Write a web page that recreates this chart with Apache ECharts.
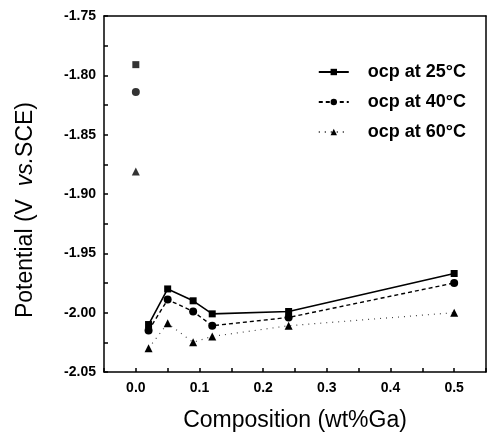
<!DOCTYPE html>
<html><head><meta charset="utf-8">
<script src="https://cdn.jsdelivr.net/npm/echarts@6/dist/echarts.min.js"></script>
<style>html,body{margin:0;padding:0;background:#fff}#c{width:489px;height:437px}</style>
</head><body><div id="c"></div>
<script>
var composition = [0, 0.02, 0.05, 0.09, 0.12, 0.24, 0.5];
var ocp25 = [-1.791, -2.010, -1.980, -1.990, -2.001, -1.999, -1.967];
var ocp40 = [-1.814, -2.015, -1.989, -1.999, -2.011, -2.004, -1.975];
var ocp60 = [-1.881, -2.030, -2.009, -2.025, -2.020, -2.011, -2.000];
var seriesNames = ['ocp at 25\u00b0C', 'ocp at 40\u00b0C', 'ocp at 60\u00b0C'];

function pts(vals, from, to) {
  var out = [];
  for (var i = from; i < to; i++) out.push([composition[i], vals[i]]);
  return out;
}
var styles = [
  {vals: ocp25, sym: 'rect', size: 7, line: {type: 'solid', width: 1.6, color: '#000'}},
  {vals: ocp40, sym: 'circle', size: 8, line: {type: [4, 3], width: 1.4, color: '#000'}},
  {vals: ocp60, sym: 'triangle', size: 8, line: {type: [1, 5], width: 1.2, color: '#444'}}
];
var series = [];
styles.forEach(function (s, k) {
  series.push({
    name: seriesNames[k], type: 'line', data: pts(s.vals, 1, composition.length),
    symbol: s.sym, symbolSize: s.size, lineStyle: s.line,
    itemStyle: {color: '#000'}, z: 3 - k
  });
  series.push({
    type: 'scatter', data: pts(s.vals, 0, 1), symbol: s.sym, symbolSize: s.size,
    itemStyle: {color: '#000'}
  });
});

var font = 'Liberation Sans';
var chart = echarts.init(document.getElementById('c'));
chart.setOption({
  animation: false,
  backgroundColor: '#fff',
  grid: {left: 104, right: 3, top: 16, bottom: 64},
  legend: {
    data: seriesNames, orient: 'vertical', right: 18, top: 58, itemGap: 12,
    itemWidth: 30, itemHeight: 8,
    textStyle: {fontFamily: font, fontWeight: 'bold', fontSize: 18, color: '#000', padding: [0, 0, 0, 14]}
  },
  xAxis: [{
    type: 'value', min: -0.05, max: 0.55, interval: 0.05,
    name: 'Composition (wt%Ga)', nameLocation: 'middle', nameGap: 37,
    nameTextStyle: {fontFamily: font, fontSize: 23, color: '#000'},
    axisLine: {onZero: false, lineStyle: {color: '#000', width: 1.5}},
    axisTick: {inside: true, length: 4, lineStyle: {color: '#000', width: 1.5}},
    splitLine: {show: false},
    axisLabel: {
      fontFamily: font, fontWeight: 'bold', fontSize: 14, color: '#000', margin: 9,
      formatter: function (v) {
        var r = Math.round(v * 100);
        if (r < 0 || r % 10 !== 0) return '';
        return (r / 100).toFixed(1);
      }
    }
  }, {
    type: 'value', position: 'top', min: -0.05, max: 0.55,
    axisLine: {onZero: false, lineStyle: {color: '#000', width: 1.5}},
    axisTick: {show: false}, axisLabel: {show: false}, splitLine: {show: false}
  }],
  yAxis: [{
    type: 'value', min: -2.05, max: -1.75, interval: 0.025,
    name: '{n|Potential (V  }{i|vs.}{n|SCE)}', nameLocation: 'middle', nameGap: 67, nameRotate: 90,
    nameTextStyle: {
      padding: [0, 32, 0, 0],
      rich: {
        n: {fontFamily: font, fontSize: 23, color: '#000'},
        i: {fontFamily: font, fontSize: 23, fontStyle: 'italic', color: '#000'}
      }
    },
    axisLine: {onZero: false, lineStyle: {color: '#000', width: 1.5}},
    axisTick: {inside: true, length: 4, lineStyle: {color: '#000', width: 1.5}},
    splitLine: {show: false},
    axisLabel: {
      fontFamily: font, fontWeight: 'bold', fontSize: 14, color: '#000', margin: 8,
      formatter: function (v) {
        var r = Math.round(v * 1000);
        if (r % 50 !== 0) return '';
        return v.toFixed(2);
      }
    }
  }, {
    type: 'value', position: 'right', min: -2.05, max: -1.75,
    axisLine: {show: true, onZero: false, lineStyle: {color: '#000', width: 1.5}},
    axisTick: {show: false}, axisLabel: {show: false}, splitLine: {show: false}
  }],
  series: series
});
</script>
</body></html>
